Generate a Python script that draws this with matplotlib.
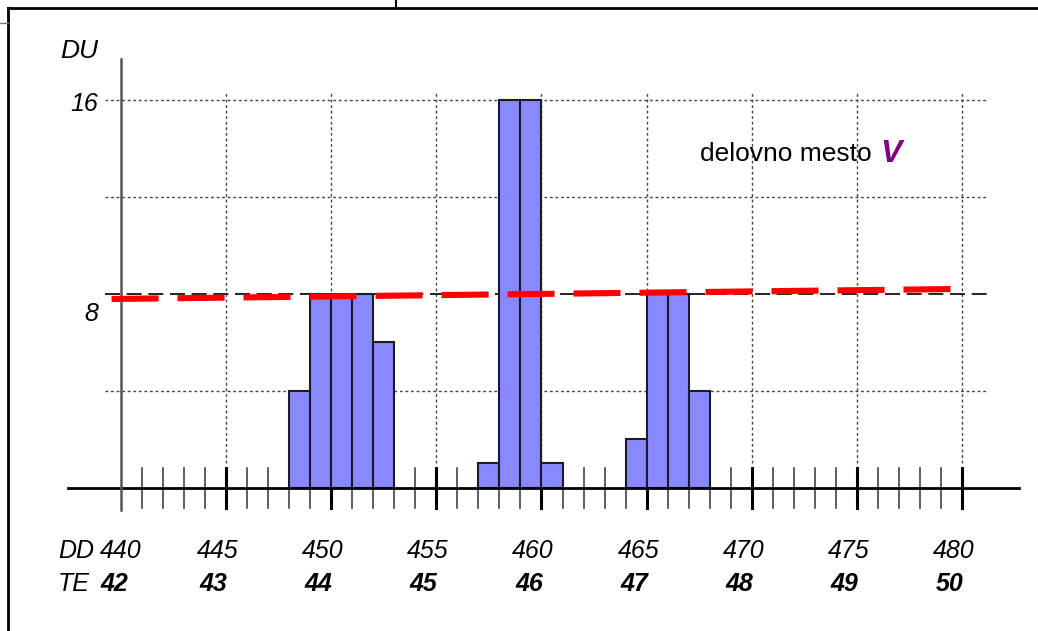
import numpy as np
import matplotlib.pyplot as plt
from matplotlib.lines import Line2D

# data
dd_start = [448, 449, 450, 451, 452, 457, 458, 459, 460, 464, 465, 466, 467]
du_values = [4, 8, 8, 8, 6, 1, 16, 16, 1, 2, 8, 8, 4]
dd_ticks = [440, 445, 450, 455, 460, 465, 470, 475, 480]
te_labels = ['42', '43', '44', '45', '46', '47', '48', '49', '50']
y_grid = [4, 12, 16]
capacity = 8
trend_x = [439.55, 479.5]
trend_y = [7.79, 8.20]

W, H = 1038, 631
X0, XS = 121.0, 21.025   # pixel of 440, pixels per DD
Y0, YS = 487.5, 24.2     # pixel of 0, pixels per DU


def px_x(p):
    return 440 + (p - X0) / XS


def px_y(p):
    return (Y0 - p) / YS


plt.rcParams['font.family'] = ['Liberation Sans', 'DejaVu Sans']

fig = plt.figure(figsize=(W / 100, H / 100), dpi=100)
ax = fig.add_axes([0, 0, 1, 1])
ax.set_xlim(px_x(0), px_x(W))
ax.set_ylim(px_y(H), px_y(0))
ax.axis('off')

# grid
for v in y_grid:
    ax.plot([px_x(105), px_x(988)], [v, v], color='#444444', lw=1, ls=(0, (2, 2)), zorder=1)
for v in dd_ticks[1:]:
    ax.plot([v, v], [px_y(463), px_y(91)], color='#444444', lw=1, ls=(0, (2, 2)), zorder=1)
ax.plot([px_x(105), px_x(988)], [capacity, capacity], color='black', lw=1.2,
        ls=(0, (9, 4)), zorder=1)

# ticks on the x axis
for v in range(441, 481):
    major = v % 5 == 0
    ax.plot([v, v], [px_y(468), px_y(508)], color='black' if major else '#333333',
            lw=2.2 if major else 1.1, zorder=2)

# bars
ax.bar(dd_start, du_values, width=1, align='edge', color='#8888ff',
       edgecolor='#1a1a2a', linewidth=1.5, zorder=3)

# axes lines
ax.plot([px_x(68), px_x(1019)], [0, 0], color='black', lw=2, zorder=4)
ax.plot([440, 440], [px_y(510), px_y(59)], color='#555555', lw=1.8, zorder=4)

# trend line
ax.plot(trend_x, trend_y, color='#ff0000', lw=4.4, ls=(0, (7.7, 3.1)),
        solid_capstyle='butt', dash_capstyle='butt', zorder=5)

# labels
fs = 18
ax.text(px_x(98), px_y(51), 'DU', ha='right', va='center', fontsize=19, style='italic')
ax.text(px_x(98), px_y(104), '16', ha='right', va='center', fontsize=fs, style='italic')
ax.text(px_x(98), px_y(314), '8', ha='right', va='center', fontsize=fs, style='italic')

ax.text(px_x(58), px_y(551), 'DD', ha='left', va='center', fontsize=fs, style='italic')
ax.text(px_x(58), px_y(584), 'TE', ha='left', va='center', fontsize=fs, style='italic')
for i, (d, t) in enumerate(zip(dd_ticks, te_labels)):
    dx = 0.0 if i == 0 else -0.4
    ax.text(d + dx, px_y(551), str(d), ha='center', va='center', fontsize=fs, style='italic')
    tx = -0.3 if i == 0 else -0.6
    ax.text(d + tx, px_y(584), t, ha='center', va='center', fontsize=fs,
            style='italic', fontweight='bold')

ax.text(px_x(700), px_y(154), 'delovno mesto', ha='left', va='center', fontsize=19)
ax.text(px_x(880), px_y(154), 'V', ha='left', va='center', fontsize=23,
        style='italic', fontweight='bold', color='#800080')

# outer frame pieces
fig.add_artist(Line2D([8 / W, 1], [1 - 8 / H, 1 - 8 / H], color='black', lw=2))
fig.add_artist(Line2D([8 / W, 8 / W], [0, 1 - 8 / H], color='black', lw=2))
fig.add_artist(Line2D([396 / W, 396 / W], [1 - 8 / H, 1], color='black', lw=1.5))
fig.add_artist(Line2D([0, 8 / W], [1 - 23 / H, 1 - 23 / H], color='#777777', lw=1))

fig.savefig('out.png', dpi=100)
